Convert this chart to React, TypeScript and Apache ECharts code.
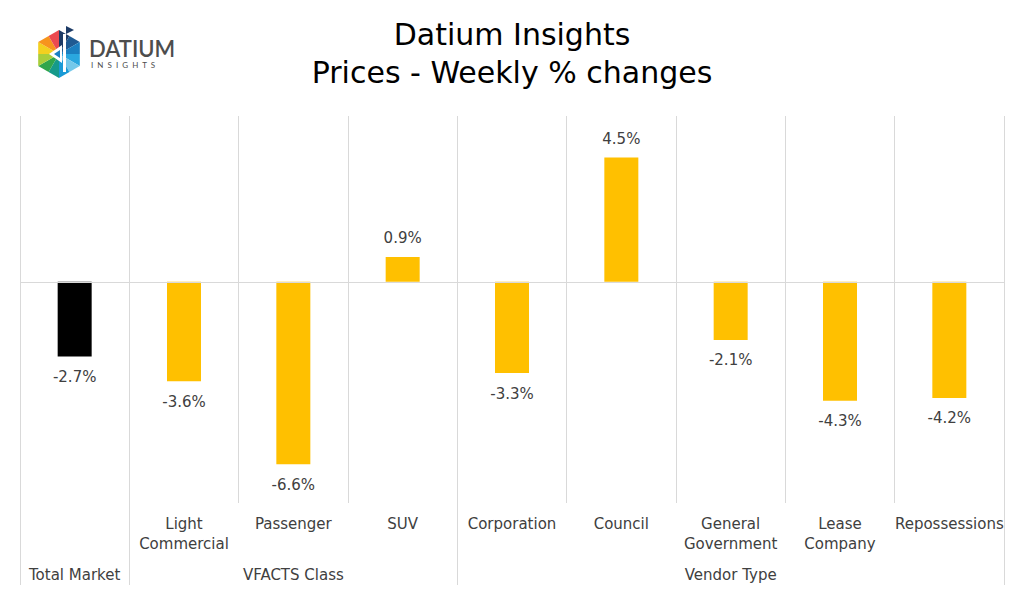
import React, { useEffect, useRef } from "react";
import * as echarts from "echarts";

const categories = ["", "Light\nCommercial", "Passenger", "SUV", "Corporation", "Council", "General\nGovernment", "Lease\nCompany", "Repossessions"];
const values = [-2.7, -3.6, -6.6, 0.9, -3.3, 4.5, -2.1, -4.3, -4.2];
const groupNames = ["Total Market", "VFACTS Class", "Vendor Type"];
const groupSizes = [1, 3, 5];

const FONT = "DejaVu Sans";
const LOGO_FONT = "Lato";
const TEXT = "#404040";
const GRID = "#d9d9d9";

function hexLogo() {
  const cx = 59, cy = 54, r = 24;
  const V: number[][] = [];
  for (let i = 0; i < 6; i++) {
    const a = ((-90 + 60 * i) * Math.PI) / 180;
    V.push([cx + r * Math.cos(a), cy + r * Math.sin(a)]);
  }
  const cols = [
    ["#1d3b66", "#1f5a92"],
    ["#1b7fc0", "#2aa7df"],
    ["#74c8ea", "#1a9ad6"],
    ["#169a8a", "#2fa54b"],
    ["#a9cd3a", "#f3d01f"],
    ["#f7941d", "#ec4a50"],
  ];
  const els: any[] = [];
  for (let i = 0; i < 6; i++) {
    const a = V[i], b = V[(i + 1) % 6];
    const m = [(a[0] + b[0]) / 2, (a[1] + b[1]) / 2];
    els.push({ type: "polygon", shape: { points: [[cx, cy], a, m] }, style: { fill: cols[i][0] } });
    els.push({ type: "polygon", shape: { points: [[cx, cy], m, b] }, style: { fill: cols[i][1] } });
  }
  els.push({ type: "polygon", shape: { points: [[49, 54], [62, 45], [62, 63]] }, style: { fill: "#ffffff" } });
  els.push({ type: "polygon", shape: { points: [[54, 54], [60, 50], [60, 58]] }, style: { fill: "#1a7fc4" } });
  els.push({ type: "rect", shape: { x: 63, y: 34, width: 3, height: 38 }, style: { fill: "#ffffff" } });
  els.push({ type: "polygon", shape: { points: [[66, 26], [74, 30], [66, 34]] }, style: { fill: "#1d3b66" } });
  els.push({ type: "text", x: 89, y: 37, style: { text: "DATIUM", fill: "#4d4d4d", font: `600 22px ${LOGO_FONT}` } });
  els.push({ type: "text", x: 91, y: 61, style: { text: "I  N  S  I  G  H  T  S", fill: "#4d4d4d", font: `8px ${LOGO_FONT}` } });
  return els;
}

export default function App() {
  const ref = useRef<HTMLDivElement>(null);
  useEffect(() => {
    if (!ref.current) return;
    const chart = echarts.init(ref.current, null, { renderer: "svg" });
    const bounds: number[] = [0];
    const centers: number[] = [];
    groupSizes.forEach((s) => {
      const start = bounds[bounds.length - 1];
      centers.push(start + s / 2);
      bounds.push(start + s);
    });
    chart.setOption({
      animation: false,
      title: {
        text: "Datium Insights\nPrices - Weekly % changes",
        left: "center",
        top: 10,
        textStyle: { fontFamily: FONT, fontSize: 30, fontWeight: "normal", color: "#000", lineHeight: 38 },
      },
      graphic: hexLogo(),
      grid: { left: 20, right: 20, top: 116, bottom: 91 },
      xAxis: [
        {
          type: "category",
          data: categories,
          position: "bottom",
          axisLine: { show: false },
          axisTick: { show: false },
          axisLabel: { interval: 0, margin: 11, fontFamily: FONT, fontSize: 15, color: TEXT, lineHeight: 20 },
          splitLine: { show: true, lineStyle: { color: GRID, width: 1 } },
        },
        {
          type: "value",
          min: 0,
          max: categories.length,
          position: "bottom",
          axisLine: { show: false },
          splitLine: { show: false },
          axisTick: { show: true, customValues: bounds, length: 82, inside: false, lineStyle: { color: GRID, width: 1 } },
          axisLabel: {
            show: true,
            customValues: centers,
            margin: 64,
            fontFamily: FONT,
            fontSize: 15,
            color: TEXT,
            formatter: (v: number) => {
              const i = centers.indexOf(v);
              return i >= 0 ? groupNames[i] : "";
            },
          },
        },
      ],
      yAxis: { type: "value", min: -8, max: 6, show: false, splitLine: { show: false } },
      series: [
        {
          type: "bar",
          xAxisIndex: 0,
          barWidth: 34,
          data: values.map((v, i) => ({
            value: v,
            itemStyle: { color: i === 0 ? "#000000" : "#FFC000" },
            label: { position: v >= 0 ? "top" : "bottom", distance: v >= 0 ? 11 : 13 },
          })),
          label: {
            show: true,
            fontFamily: FONT,
            fontSize: 15,
            color: TEXT,
            formatter: (p: any) => p.value.toFixed(1) + "%",
          },
          markLine: {
            silent: true,
            symbol: "none",
            label: { show: false },
            lineStyle: { color: GRID, width: 1, type: "solid" },
            data: [{ yAxis: 0 }],
          },
        },
      ],
    });
    return () => chart.dispose();
  }, []);
  return <div ref={ref} style={{ position: "absolute", left: 0, top: 0, width: 1024, height: 594 }} />;
}
